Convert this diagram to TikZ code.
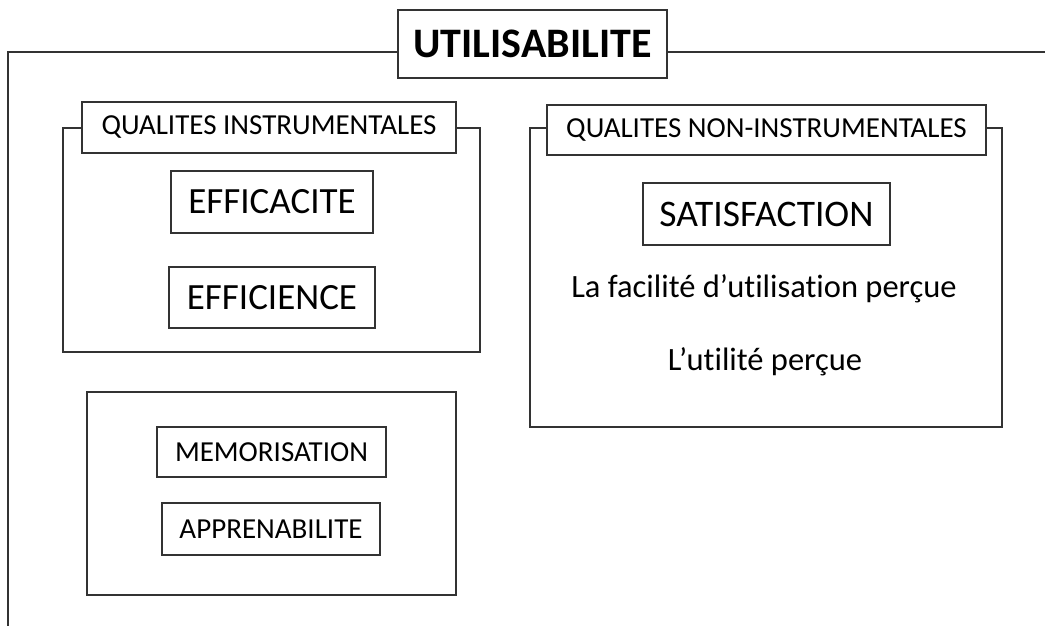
\documentclass[tikz,border=0pt]{standalone}
\usepackage{fontspec}
\setmainfont[Ligatures=NoCommon,RawFeature={-liga;-clig;-dlig}]{Carlito}
\begin{document}
\begin{tikzpicture}[x=1pt,y=-1pt,
  ln/.style={draw=black!80,line width=1.8pt},
  boxed/.style={ln,rectangle,inner sep=0pt,align=center,fill=white},
  plain/.style={inner sep=0pt,anchor=base}]
\useasboundingbox (0,0) rectangle (1045,625);
% outer frame
\node[boxed,minimum width=269pt,minimum height=68pt,font=\fontsize{42}{46}\selectfont\bfseries] (title) at (532.5,44) {UTILISABILITE};
\coordinate (otl) at (8,52);
\coordinate (obl) at (8,628);
\coordinate (otr) at (1048,52);
\draw[ln] (obl) -- (otl) -- (title.west |- otl);
\draw[ln] (title.east |- otr) -- (otr);
% left group
\node[boxed,minimum width=374pt,minimum height=51pt,font=\fontsize{29}{33}\selectfont] (qi) at (269,127.5) {QUALITES INSTRUMENTALES};
\coordinate (qil) at (63,128);
\coordinate (qir) at (480,352);
\draw[ln] (qi.west |- qil) -- (qil) -- (qil |- qir) -- (qir) -- (qir |- qil) -- (qi.east |- qil);
\node[boxed,minimum width=202pt,minimum height=62pt,font=\fontsize{37}{41}\selectfont] (eff1) at (272,202) {EFFICACITE};
\node[boxed,minimum width=206pt,minimum height=61pt,font=\fontsize{37}{41}\selectfont] (eff2) at (272,297.5) {EFFICIENCE};
% right group
\node[boxed,minimum width=439pt,minimum height=50pt,font=\fontsize{29}{33}\selectfont] (qni) at (766.5,130) {QUALITES NON-INSTRUMENTALES};
\coordinate (qnil) at (530,128);
\coordinate (qnir) at (1002,427);
\draw[ln] (qni.west |- qnil) -- (qnil) -- (qnil |- qnir) -- (qnir) -- (qnir |- qnil) -- (qni.east |- qnil);
\node[boxed,minimum width=247pt,minimum height=62pt,font=\fontsize{37.5}{41}\selectfont] (sat) at (766.5,214) {SATISFACTION};
\node[plain,font=\fontsize{32.5}{36}\selectfont] (fac) at (764,297) {La facilité d’utilisation perçue};
\node[plain,font=\fontsize{32.5}{36}\selectfont] (uti) at (765,370) {L’utilité perçue};
% bottom box
\node[boxed,minimum width=369pt,minimum height=203pt] (bot) at (271.5,493.5) {};
\node[boxed,minimum width=229pt,minimum height=50pt,font=\fontsize{29}{33}\selectfont] (mem) at (271.5,452) {MEMORISATION};
\node[boxed,minimum width=218pt,minimum height=52pt,font=\fontsize{29}{33}\selectfont] (app) at (271,529) {APPRENABILITE};
\end{tikzpicture}
\end{document}
